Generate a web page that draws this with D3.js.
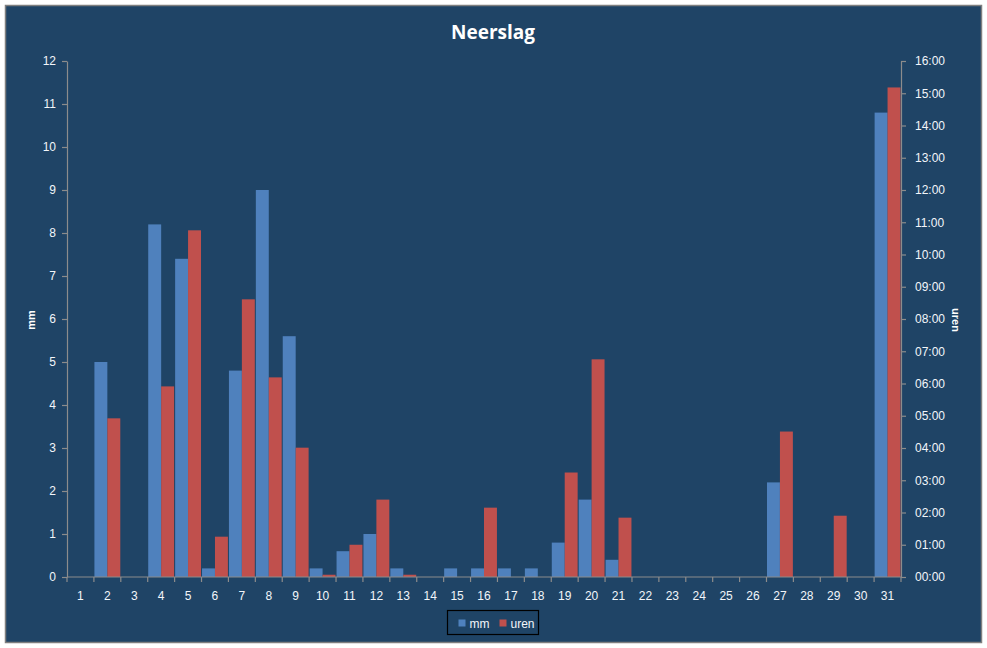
<!DOCTYPE html>
<html>
<head>
<meta charset="utf-8">
<script src="https://cdn.jsdelivr.net/npm/d3@7"></script>
<style>
  body { margin: 0; background: #fff; }
  svg text { font-family: "Liberation Sans", Arial, sans-serif; }
</style>
</head>
<body>
<svg id="chart" width="987" height="648"></svg>
<script>
// days of the month
const days = d3.range(1, 32).map(String);

// rainfall in mm per day
const mm = [0, 5.0, 0, 8.2, 7.4, 0.2, 4.8, 9.0, 5.6, 0.2,
  0.6, 1.0, 0.2, 0, 0.2, 0.2, 0.2, 0.2, 0.8, 1.8,
  0.4, 0, 0, 0, 0, 0, 2.2, 0, 0, 0, 10.8];

// duration of rain in hours per day
const uren = [0, 4.92, 0, 5.91, 10.75, 1.25, 8.61, 6.19, 4.01, 0.07,
  1.0, 2.4, 0.07, 0, 0, 2.15, 0, 0, 3.24, 6.75,
  1.84, 0, 0, 0, 0, 0, 4.51, 0, 1.9, 0, 15.18];

const mmTicks = d3.range(0, 13);
const hourTicks = d3.range(0, 17);

const series = ["mm", "uren"];
const colors = { mm: "#4F81BD", uren: "#C0504D" };

const svg = d3.select("#chart");
const W = 987, H = 648;
const plot = { left: 67, right: 901, top: 61, bottom: 577 };

// background + frame
svg.append("rect")
  .attr("x", 5.5).attr("y", 5.5)
  .attr("width", 976).attr("height", 637)
  .attr("fill", "#1F4466")
  .attr("stroke", "#7F7F7F")
  .attr("stroke-width", 1.5);

svg.append("text")
  .attr("x", 493).attr("y", 39)
  .attr("text-anchor", "middle")
  .attr("fill", "#fff")
  .style("font-family", "'Open Sans', 'Noto Sans', sans-serif")
  .style("font-weight", "bold")
  .style("font-size", "19px")
  .text("Neerslag");

const x = d3.scaleBand().domain(days).range([plot.left, plot.right]).padding(0);
const xInner = d3.scaleBand().domain(series).range([0, x.bandwidth()])
  .paddingInner(0).paddingOuter(0.04);
const yMm = d3.scaleLinear().domain([0, 12]).range([plot.bottom, plot.top]);
const yHours = d3.scaleLinear().domain([0, 16]).range([plot.bottom, plot.top]);

const rows = days.map((d, i) => ({ day: d, mm: mm[i], uren: uren[i] }));

// bars
const groups = svg.append("g").selectAll("g")
  .data(rows).join("g")
  .attr("transform", d => `translate(${x(d.day)},0)`);

groups.append("rect")
  .attr("x", xInner("mm"))
  .attr("width", xInner.bandwidth())
  .attr("y", d => yMm(d.mm))
  .attr("height", d => yMm(0) - yMm(d.mm))
  .attr("fill", colors.mm);

groups.append("rect")
  .attr("x", xInner("uren"))
  .attr("width", xInner.bandwidth())
  .attr("y", d => yHours(d.uren))
  .attr("height", d => yHours(0) - yHours(d.uren))
  .attr("fill", colors.uren);

const axisColor = "#8C8C8C";

function styleAxis(g) {
  g.selectAll("path, line").attr("stroke", axisColor).attr("stroke-width", 1.2);
  g.selectAll("text").attr("fill", "#F2F6FA").style("font-size", "12px");
}

// left axis
svg.append("g")
  .attr("transform", `translate(${plot.left},0)`)
  .call(d3.axisLeft(yMm).tickValues(mmTicks).tickSize(5).tickSizeOuter(0).tickPadding(6))
  .call(styleAxis);

// right axis with hh:00 labels
svg.append("g")
  .attr("transform", `translate(${plot.right},0)`)
  .call(d3.axisRight(yHours).tickValues(hourTicks).tickSize(5).tickSizeOuter(0).tickPadding(9)
    .tickFormat(h => d3.format("02d")(h) + ":00"))
  .call(styleAxis);

// bottom axis: ticks on category boundaries, labels centred
const xAxis = svg.append("g")
  .attr("transform", `translate(0,${plot.bottom})`);
xAxis.append("line")
  .attr("x1", plot.left).attr("x2", plot.right)
  .attr("stroke", axisColor).attr("stroke-width", 1.2);
xAxis.selectAll("line.tick")
  .data(days.concat(["end"])).join("line")
  .attr("class", "tick")
  .attr("x1", (d, i) => plot.left + i * x.step())
  .attr("x2", (d, i) => plot.left + i * x.step())
  .attr("y1", 0).attr("y2", 5)
  .attr("stroke", axisColor).attr("stroke-width", 1.2);
xAxis.selectAll("text")
  .data(days).join("text")
  .attr("x", d => x(d) + x.bandwidth() / 2)
  .attr("y", 23)
  .attr("text-anchor", "middle")
  .attr("fill", "#F2F6FA")
  .style("font-size", "12px")
  .text(d => d);

// axis titles
svg.append("text")
  .attr("transform", "translate(35,320) rotate(-90)")
  .attr("text-anchor", "middle")
  .attr("fill", "#fff")
  .style("font-weight", "bold")
  .style("font-size", "11px")
  .text("mm");

svg.append("text")
  .attr("transform", "translate(952,320) rotate(90)")
  .attr("text-anchor", "middle")
  .attr("fill", "#fff")
  .style("font-weight", "bold")
  .style("font-size", "11px")
  .text("uren");

// legend
const legend = svg.append("g").attr("transform", "translate(447.5,610.5)");
legend.append("rect")
  .attr("width", 91).attr("height", 24)
  .attr("fill", "none").attr("stroke", "#000").attr("stroke-width", 1.2);
const items = legend.selectAll("g.item")
  .data(series).join("g")
  .attr("class", "item")
  .attr("transform", (d, i) => `translate(${i === 0 ? 11 : 52},0)`);
items.append("rect")
  .attr("y", 9).attr("width", 7).attr("height", 7)
  .attr("fill", d => colors[d]);
items.append("text")
  .attr("x", 11).attr("y", 17)
  .attr("fill", "#F2F6FA")
  .style("font-size", "12px")
  .text(d => d);
</script>
</body>
</html>
